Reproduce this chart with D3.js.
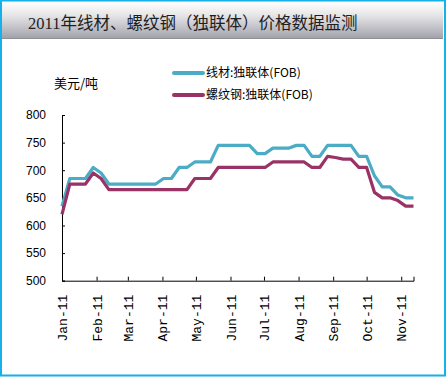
<!DOCTYPE html>
<html><head><meta charset="utf-8">
<script src="https://cdn.jsdelivr.net/npm/d3@7"></script>
<style>html,body{margin:0;padding:0;background:#fff;}svg{display:block;}</style>
</head><body>
<svg id="c" width="448" height="379"></svg>
<script>
const title = "2011年线材、螺纹钢（独联体）价格数据监测";
const unitLabel = "美元/吨";
const seriesNames = ["线材:独联体(FOB)", "螺纹钢:独联体(FOB)"];
const dates = ["2011-01-01","2011-01-08","2011-01-15","2011-01-22","2011-01-29",
  "2011-02-05","2011-02-12","2011-02-19","2011-02-26",
  "2011-03-05","2011-03-12","2011-03-19","2011-03-26",
  "2011-04-02","2011-04-09","2011-04-16","2011-04-23","2011-04-30",
  "2011-05-07","2011-05-14","2011-05-21","2011-05-28",
  "2011-06-04","2011-06-11","2011-06-18","2011-06-25",
  "2011-07-02","2011-07-09","2011-07-16","2011-07-23","2011-07-30",
  "2011-08-06","2011-08-13","2011-08-20","2011-08-27",
  "2011-09-03","2011-09-10","2011-09-17","2011-09-24",
  "2011-10-01","2011-10-08","2011-10-15","2011-10-22","2011-10-29",
  "2011-11-05","2011-11-12"];
const wireRod = [635,685,685,685,705,695,675,675,675,675,675,675,675,685,685,705,705,715,715,715,
  745,745,745,745,745,730,730,740,740,740,745,745,725,725,745,745,745,745,725,725,
  690,670,670,655,650,650];
const rebar = [620,675,675,675,695,685,665,665,665,665,665,665,665,665,665,665,665,685,685,685,
  705,705,705,705,705,705,705,715,715,715,715,715,705,705,725,723,720,720,705,705,
  660,650,650,645,635,635];
const yTicks = [500,550,600,650,700,750,800];
const monthTicks = ["2011-01-01","2011-02-01","2011-03-01","2011-04-01","2011-05-01","2011-06-01",
  "2011-07-01","2011-08-01","2011-09-01","2011-10-01","2011-11-01"];
const colors = ["#4BACC6", "#993366"];

const svg = d3.select("#c");
const parse = d3.timeParse("%Y-%m-%d");
const D = dates.map(parse);

// frame
const defs = svg.append("defs");
const g = defs.append("linearGradient").attr("id","hdr").attr("x1",0).attr("y1",0).attr("x2",0).attr("y2",1);
g.append("stop").attr("offset","0%").attr("stop-color","#fdfdfd");
g.append("stop").attr("offset","35%").attr("stop-color","#e6e6e8");
g.append("stop").attr("offset","100%").attr("stop-color","#a3a3ad");
svg.append("rect").attr("x",0).attr("y",0).attr("width",448).attr("height",379).attr("fill","#fff");
svg.append("rect").attr("x",2).attr("y",3).attr("width",441).attr("height",35).attr("fill","url(#hdr)");
svg.append("line").attr("x1",2).attr("x2",443).attr("y1",38.5).attr("y2",38.5).attr("stroke","#8f8f98");
svg.append("rect").attr("x",1).attr("y",0.5).attr("width",444).attr("height",375).attr("fill","none")
  .attr("stroke","#16b0ea").attr("stroke-width",2);

svg.append("text").attr("x",28).attr("y",29).text(title)
  .attr("font-family","'Liberation Serif','Noto Sans CJK SC'").attr("font-size","16.5px").attr("fill","#1e1e1e");

// scales
const x = d3.scaleTime().domain([D[0], D[D.length-1]]).range([62, 413.5]);
const y = d3.scaleLinear().domain([500, 800]).range([280.7, 115]);

// axes
const yAxis = d3.axisLeft(y).tickValues(yTicks).tickSize(-3).tickPadding(16);
const ya = svg.append("g").attr("transform","translate(62,0)").call(yAxis);
ya.select(".domain").attr("stroke","#000");
ya.selectAll(".tick line").attr("stroke","#000");
ya.selectAll("text").attr("font-family","'Liberation Sans',Arial,sans-serif").attr("font-size","12px").attr("fill","#000");

const xAxis = d3.axisBottom(x).tickValues(monthTicks.map(parse)).tickSize(-4).tickFormat(d3.timeFormat("%b-%y"));
const xa = svg.append("g").attr("transform","translate(0,280.7)").call(xAxis);
xa.select(".domain").attr("stroke","#000");
xa.selectAll(".tick line").attr("stroke","#000");
xa.selectAll("text")
  .attr("font-family","'Liberation Mono','DejaVu Sans Mono',monospace").attr("font-size","13px").attr("fill","#000")
  .attr("text-anchor","end").attr("x",0).attr("y",0).attr("dy","0.35em")
  .attr("transform","translate(0,14) rotate(-90)");

// lines
const line = d3.line().x((d,i)=>x(D[i])).y(d=>y(d));
[wireRod, rebar].forEach((s,i)=>{
  svg.append("path").attr("d", line(s)).attr("fill","none").attr("stroke",colors[i])
    .attr("stroke-width",3.2).attr("stroke-linejoin","round");
});

// unit label
svg.append("text").attr("x",54).attr("y",88).text(unitLabel)
  .attr("font-family","'Noto Sans CJK SC'").attr("font-size","13px").attr("fill","#000");

// legend
seriesNames.forEach((n,i)=>{
  const ly = 73 + i*22;
  svg.append("line").attr("x1",174).attr("x2",203).attr("y1",ly).attr("y2",ly)
    .attr("stroke",colors[i]).attr("stroke-width",4).attr("stroke-linecap","round");
  svg.append("text").attr("x",206).attr("y",ly).attr("dy","0.35em").text(n)
    .attr("font-family","'Noto Sans CJK SC'").attr("font-size","12px").attr("fill","#000");
});
</script>
</body></html>
